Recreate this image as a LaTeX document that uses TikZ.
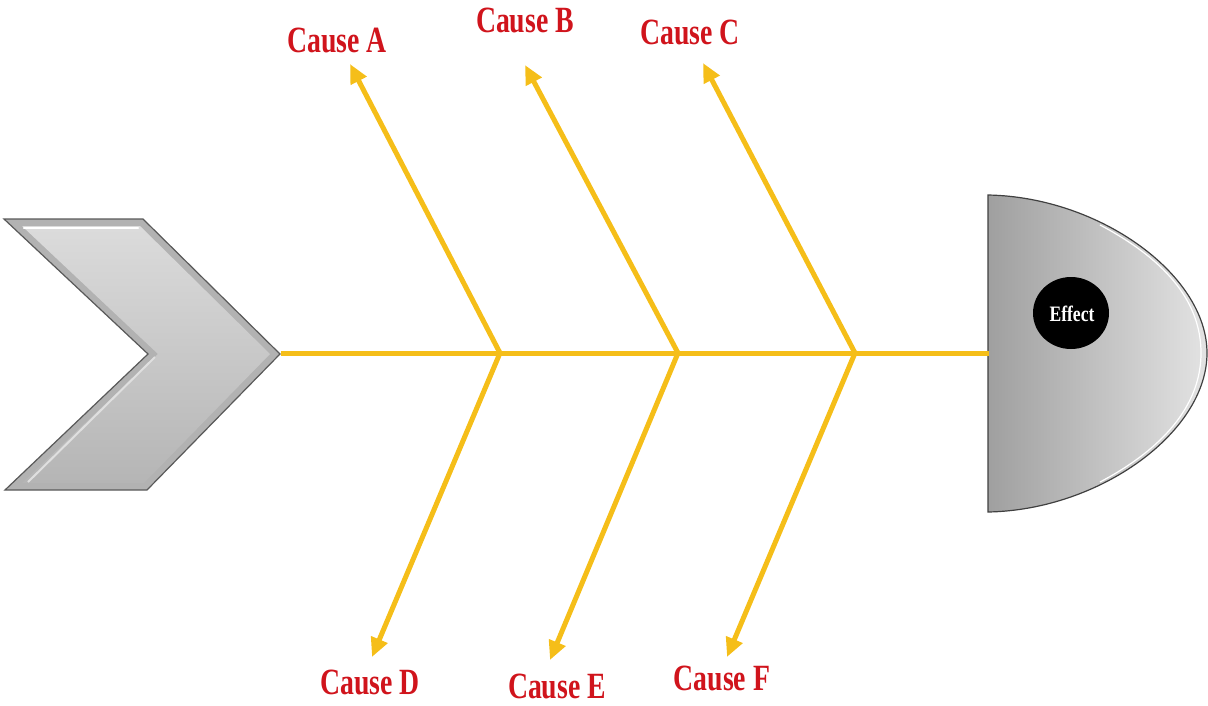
\documentclass[tikz,border=0pt]{standalone}
\usepackage{fontspec}
\setmainfont{Liberation Serif}
\usetikzlibrary{arrows.meta,shapes.geometric}
\definecolor{bone}{RGB}{245,190,25}
\definecolor{causered}{RGB}{208,20,28}
\newcommand{\squeeze}[1]{\scalebox{0.75}[1]{#1}}
\tikzset{
  bonearrow/.style={draw=bone, line width=5pt, -{Triangle[length=19pt,width=17pt]}},
  spineline/.style={draw=bone, line width=5pt},
  causelbl/.style={text=causered, font=\bfseries\fontsize{37}{40}\selectfont, inner sep=0pt},
  effectlbl/.style={text=white, font=\bfseries\fontsize{22}{24}\selectfont, inner sep=0pt},
}
\begin{document}
\begin{tikzpicture}[x=1pt,y=-1pt]
\useasboundingbox (0,0) rectangle (1208,705);
% chevron (tail)
\fill[gray!60] (4,219) -- (143,219) -- (280,354) -- (147,490) -- (5,490) -- (148,354) -- cycle;
\shade[top color=gray!28, bottom color=gray!58]
  (22,226) -- (140,226) -- (270,354) -- (144,483) -- (22,483) -- (158,354) -- cycle;
\draw[white, line width=2.5pt, line cap=round] (24,228) -- (138,228);
\draw[white!75!gray, line width=2pt] (155,357) -- (28,482);
\draw[gray!70!black, line width=1.2pt] (4,219) -- (143,219) -- (280,354) -- (147,490) -- (5,490) -- (148,354) -- cycle;
% effect head
\shade[left color=gray!75, right color=gray!22, draw=gray!50!black, line width=1.2pt]
  (988,195) .. controls (1100,197) and (1207,275) .. (1207,353)
  .. controls (1207,432) and (1100,510) .. (988,512) -- cycle;
\draw[white, line width=1.2pt] (1100,225) .. controls (1170,262) and (1201,305) .. (1201,353)
  .. controls (1201,400) and (1170,445) .. (1100,482);
\node[draw=none, fill=black, ellipse, minimum width=76pt, minimum height=72pt, inner sep=0pt] (effect) at (1071,313) {};
\node[effectlbl] (effecttxt) at (1072,314) {\scalebox{0.8}[1]{Effect}};
% spine
\coordinate (tail) at (281,353);
\coordinate (head) at (989,353);
\coordinate (j1) at (500,353);
\coordinate (j2) at (678,353);
\coordinate (j3) at (855,353);
\coordinate (tA) at (350,64);
\coordinate (tB) at (525,65);
\coordinate (tC) at (703,63);
\coordinate (tD) at (372,657);
\coordinate (tE) at (550,660);
\coordinate (tF) at (727,657);
\draw[spineline] (tail) -- (head);
\draw[bonearrow] (j1) -- (tA);
\draw[bonearrow] (j2) -- (tB);
\draw[bonearrow] (j3) -- (tC);
\draw[bonearrow] (j1) -- (tD);
\draw[bonearrow] (j2) -- (tE);
\draw[bonearrow] (j3) -- (tF);
% labels
\node[causelbl] (cA) at (337,40) {\squeeze{Cause A}};
\node[causelbl] (cB) at (525,20) {\squeeze{Cause B}};
\node[causelbl] (cC) at (690,32) {\squeeze{Cause C}};
\node[causelbl] (cD) at (370,682) {\squeeze{Cause D}};
\node[causelbl] (cE) at (557,686) {\squeeze{Cause E}};
\node[causelbl] (cF) at (722,678) {\squeeze{Cause F}};
\end{tikzpicture}
\end{document}
